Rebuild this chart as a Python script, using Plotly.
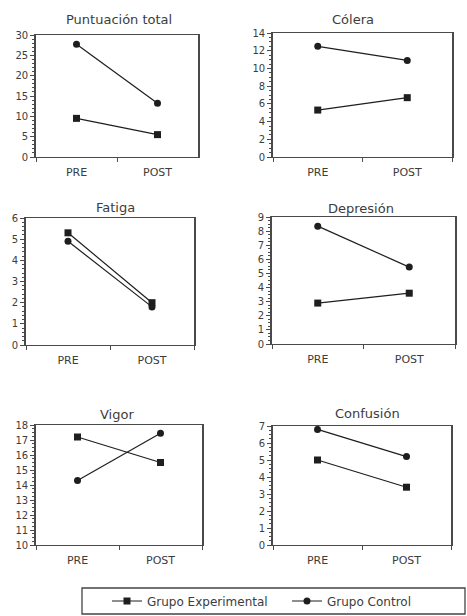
import plotly.graph_objects as go

W, H = 467, 616
times = ["PRE", "POST"]
titles = ["Puntuación total", "Cólera", "Fatiga", "Depresión", "Vigor", "Confusión"]
experimental = [[9.5, 5.5], [5.3, 6.7], [5.3, 2.0], [2.9, 3.6], [17.2, 15.5], [5.0, 3.4]]
control = [[27.7, 13.2], [12.5, 10.9], [4.9, 1.8], [8.35, 5.45], [14.3, 17.45], [6.8, 5.2]]
y_ranges = [[0, 30], [0, 14], [0, 6], [0, 9], [10, 18], [0, 7]]
y_dticks = [5, 2, 1, 1, 1, 1]
y_minor = [1, 0.5, 0.2, 0.25, 0.25, 0.25]

# panel boxes in pixels: x0, x1, y0(top), y1(bottom)
boxes = [(36, 198, 35, 157), (273, 452, 33, 157),
         (26, 194, 218, 345), (272, 455, 217, 344),
         (36, 202, 425, 545), (273, 451, 426, 545)]
# title centers in pixels (x, y)
title_pos = [(119, 20), (353, 19), (115, 207), (361, 208), (117, 414), (367, 413)]

FONT = "DejaVu Sans"
fig = go.Figure()
font_color = "#3c3c3c"
line_color = "#1e1e1e"
axis_color = "#4a4a4a"

for i in range(6):
    n = "" if i == 0 else str(i + 1)
    x0, x1, t, b = boxes[i]
    fig.add_trace(go.Scatter(x=times, y=experimental[i], mode="lines+markers",
                             name="Grupo Experimental", showlegend=(i == 0),
                             line=dict(color=line_color, width=1.2),
                             marker=dict(symbol="square", size=7, color=line_color),
                             xaxis="x" + n, yaxis="y" + n))
    fig.add_trace(go.Scatter(x=times, y=control[i], mode="lines+markers",
                             name="Grupo Control", showlegend=(i == 0),
                             line=dict(color=line_color, width=1.2),
                             marker=dict(symbol="circle", size=7, color=line_color),
                             xaxis="x" + n, yaxis="y" + n))
    fig.layout["xaxis" + n] = dict(
        domain=[x0 / W, x1 / W], anchor="y" + n, type="category",
        range=[-0.5, 1.5], tickson="boundaries", ticks="outside", ticklen=4,
        tickcolor=axis_color, showline=True, linecolor=axis_color, linewidth=1.2,
        mirror=True, showgrid=False, zeroline=False, ticklabelstandoff=5,
        tickfont=dict(size=11, color=font_color, family=FONT))
    fig.layout["yaxis" + n] = dict(
        domain=[1 - b / H, 1 - t / H], anchor="x" + n, range=y_ranges[i],
        dtick=y_dticks[i], tick0=0, ticks="outside", ticklen=4, tickcolor=axis_color,
        showline=True, linecolor=axis_color, linewidth=1.6, mirror=True,
        showgrid=False, zeroline=False, ticklabelstandoff=0,
        minor=dict(dtick=y_minor[i], ticks="outside", ticklen=2, tickcolor=axis_color),
        tickfont=dict(size=10, color=font_color, family=FONT))
    tx, ty = title_pos[i]
    fig.add_annotation(text=titles[i], x=tx / W, y=1 - ty / H,
                       xref="paper", yref="paper", xanchor="center", yanchor="middle",
                       showarrow=False,
                       font=dict(size=13, color=font_color, family=FONT))

# legend frame
fig.add_shape(type="rect", xref="paper", yref="paper",
              x0=82 / W, x1=465 / W, y0=1 - 614 / H, y1=1 - 588 / H,
              line=dict(color="#444", width=1.3), fillcolor="rgba(0,0,0,0)")

fig.update_layout(
    width=W, height=H, margin=dict(l=0, r=0, t=0, b=0, autoexpand=False),
    paper_bgcolor="white", plot_bgcolor="white",
    legend=dict(orientation="h", x=107 / W, y=1 - 601 / H, xanchor="left", yanchor="middle",
                borderwidth=0, bgcolor="rgba(0,0,0,0)", entrywidth=135,
                font=dict(size=12, color=font_color, family=FONT),
                itemwidth=30),
)

fig.write_html("out.html", config={"displayModeBar": False},
               post_script="document.body.style.margin='0';document.body.style.overflow='hidden';")
